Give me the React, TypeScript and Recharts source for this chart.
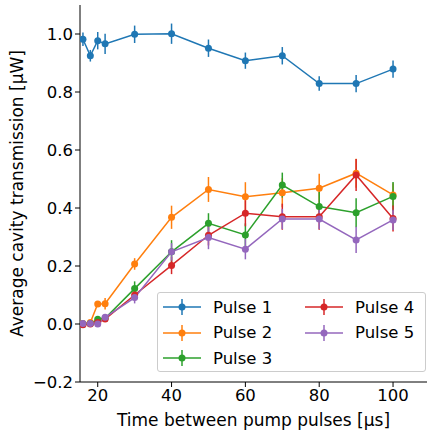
import React from 'react';
import {
  ComposedChart,
  Line,
  ErrorBar,
  XAxis,
  YAxis,
} from 'recharts';

// time between pump pulses (µs)
const pulseTimes = [16, 18, 20, 22, 30, 40, 50, 60, 70, 80, 90, 100];

const pulse1 = [0.982, 0.925, 0.977, 0.966, 0.999, 1.001, 0.951, 0.908, 0.925, 0.829, 0.829, 0.879];
const pulse1Err = [0.023, 0.02, 0.03, 0.035, 0.03, 0.035, 0.03, 0.028, 0.03, 0.025, 0.03, 0.03];

const pulse2 = [0.002, 0.005, 0.069, 0.07, 0.207, 0.368, 0.464, 0.439, 0.453, 0.468, 0.52, 0.445];
const pulse2Err = [0.005, 0.008, 0.01, 0.02, 0.02, 0.04, 0.043, 0.05, 0.05, 0.05, 0.05, 0.04];

const pulse3 = [0.0, 0.002, 0.016, 0.02, 0.122, 0.249, 0.347, 0.307, 0.479, 0.405, 0.384, 0.44];
const pulse3Err = [0.005, 0.005, 0.008, 0.01, 0.025, 0.04, 0.035, 0.04, 0.043, 0.05, 0.05, 0.05];

const pulse4 = [-0.003, 0.0, 0.005, 0.017, 0.1, 0.202, 0.306, 0.382, 0.37, 0.37, 0.514, 0.364];
const pulse4Err = [0.005, 0.005, 0.005, 0.01, 0.02, 0.03, 0.035, 0.045, 0.045, 0.045, 0.055, 0.045];

const pulse5 = [0.002, 0.002, 0.0, 0.023, 0.091, 0.249, 0.298, 0.258, 0.362, 0.362, 0.29, 0.359];
const pulse5Err = [0.005, 0.005, 0.005, 0.01, 0.02, 0.03, 0.04, 0.035, 0.035, 0.035, 0.045, 0.035];

const seriesNames = ['Pulse 1', 'Pulse 2', 'Pulse 3', 'Pulse 4', 'Pulse 5'];
const seriesColors = ['#1f77b4', '#ff7f0e', '#2ca02c', '#d62728', '#9467bd'];
const seriesValues = [pulse1, pulse2, pulse3, pulse4, pulse5];
const seriesErrors = [pulse1Err, pulse2Err, pulse3Err, pulse4Err, pulse5Err];

const xTicks = [20, 40, 60, 80, 100];
const yTicks = [-0.2, 0, 0.2, 0.4, 0.6, 0.8, 1.0];

const chartData = pulseTimes.map((t, i) => {
  const row: Record<string, number> = { t };
  seriesValues.forEach((vals, s) => {
    row[`p${s + 1}`] = vals[i];
    row[`e${s + 1}`] = seriesErrors[s][i];
  });
  return row;
});

const FONT = '"DejaVu Sans", sans-serif';

const fmtY = (v: number) => {
  const s = Math.abs(v).toFixed(1);
  return v < -1e-9 ? `\u2212${s}` : s;
};

function LegendHandle({ color }: { color: string }) {
  return (
    <svg width={38} height={20} style={{ display: 'block' }}>
      <line x1={0} y1={10} x2={38} y2={10} stroke={color} strokeWidth={1.5} />
      <line x1={19} y1={2} x2={19} y2={18} stroke={color} strokeWidth={1.5} />
      <circle cx={19} cy={10} r={3.5} fill={color} />
    </svg>
  );
}

function PulseLegend() {
  const cols = [[0, 1, 2], [3, 4]];
  return (
    <div
      style={{
        position: 'absolute',
        left: 157,
        top: 292,
        width: 269,
        height: 80,
        border: '1px solid #cccccc',
        borderRadius: 3,
        background: 'rgba(255,255,255,0.8)',
        boxSizing: 'border-box',
        fontFamily: FONT,
        fontSize: 16.5,
        color: '#000',
      }}
    >
      {cols.map((col, c) =>
        col.map((s, r) => (
          <div
            key={s}
            style={{
              position: 'absolute',
              left: c === 0 ? 5 : 147,
              top: 4 + r * 25.5,
              display: 'flex',
              alignItems: 'center',
              height: 20,
              whiteSpace: 'nowrap',
            }}
          >
            <LegendHandle color={seriesColors[s]} />
            <span style={{ marginLeft: 12 }}>{seriesNames[s]}</span>
          </div>
        )),
      )}
    </div>
  );
}

export default function App() {
  return (
    <div style={{ position: 'fixed', left: 0, top: 0, width: 428, height: 434, background: '#fff' }}>
      <ComposedChart
        width={428}
        height={434}
        data={chartData}
        margin={{ top: 5, right: 1, bottom: 0, left: 0 }}
      >
        <XAxis
          xAxisId="main"
          dataKey="t"
          type="number"
          domain={[15.2, 109.2]}
          ticks={xTicks}
          allowDataOverflow
          height={52}
          tickSize={5}
          tick={{ fill: '#000', fontSize: 16.5, fontFamily: FONT }}
          stroke="#000"
          tickLine={{ stroke: '#000' }}
          axisLine={{ stroke: '#000', strokeWidth: 1 }}
          label={{
            value: 'Time between pump pulses [\u00b5s]',
            position: 'insideBottom',
            offset: 8,
            fill: '#000',
            fontSize: 17,
            fontFamily: FONT,
          }}
        />
        <XAxis
          xAxisId="top"
          orientation="top"
          dataKey="t"
          type="number"
          domain={[15.2, 109.2]}
          height={0}
          tick={false}
          tickLine={false}
          axisLine={{ stroke: '#000', strokeWidth: 1 }}
        />
        <YAxis
          yAxisId="main"
          type="number"
          domain={[-0.2, 1.1]}
          ticks={yTicks}
          allowDataOverflow
          width={80}
          tickSize={5}
          tickFormatter={fmtY}
          tick={{ fill: '#000', fontSize: 16.5, fontFamily: FONT }}
          tickLine={{ stroke: '#000' }}
          axisLine={{ stroke: '#000', strokeWidth: 1 }}
          label={{
            value: 'Average cavity transmission [\u00b5W]',
            angle: -90,
            position: 'insideLeft',
            offset: 17,
            style: { textAnchor: 'middle' },
            fill: '#000',
            fontSize: 17,
            fontFamily: FONT,
          }}
        />
        <YAxis
          yAxisId="right"
          orientation="right"
          type="number"
          domain={[-0.2, 1.1]}
          width={0}
          tick={false}
          tickLine={false}
          axisLine={{ stroke: '#000', strokeWidth: 1 }}
        />
        {seriesNames.map((name, s) => (
          <Line
            key={name}
            xAxisId="main"
            yAxisId="main"
            type="linear"
            dataKey={`p${s + 1}`}
            name={name}
            stroke={seriesColors[s]}
            strokeWidth={1.5}
            dot={{ r: 3.5, fill: seriesColors[s], stroke: seriesColors[s], strokeWidth: 0 }}
            activeDot={false}
            isAnimationActive={false}
          >
            <ErrorBar
              dataKey={`e${s + 1}`}
              direction="y"
              width={0}
              stroke={seriesColors[s]}
              strokeWidth={1.5}
              isAnimationActive={false}
            />
          </Line>
        ))}
      </ComposedChart>
      <PulseLegend />
    </div>
  );
}
